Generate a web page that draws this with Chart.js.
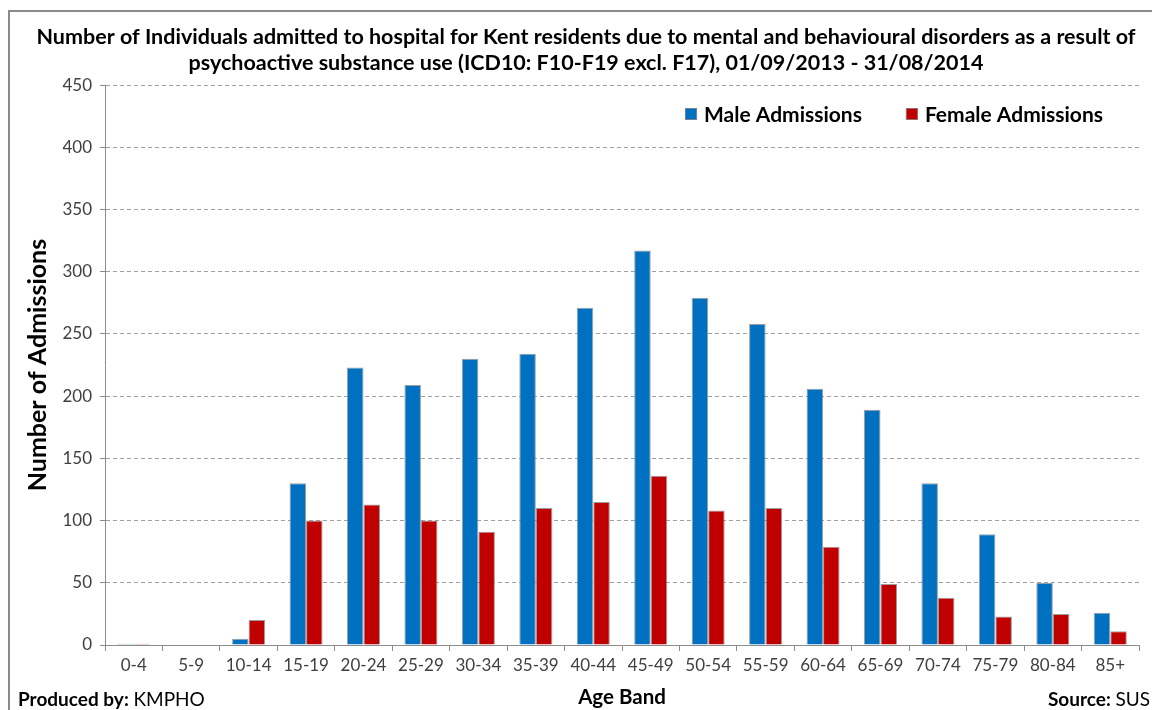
<!DOCTYPE html>
<html>
<head>
<meta charset="utf-8">
<script src="https://cdn.jsdelivr.net/npm/chart.js@4.4.1/dist/chart.umd.min.js"></script>
<style>
  html, body { margin: 0; padding: 0; background: #fff; overflow: hidden; }
  #wrap { position: relative; width: 1172px; height: 710px; }
</style>
</head>
<body>
<div id="wrap"><canvas id="grafica"></canvas></div>
<script>
const ageBands = ["0-4", "5-9", "10-14", "15-19", "20-24", "25-29", "30-34", "35-39", "40-44",
                  "45-49", "50-54", "55-59", "60-64", "65-69", "70-74", "75-79", "80-84", "85+"];
const maleAdmissions = [1, 0, 5, 130, 223, 209, 230, 234, 271, 317, 279, 258, 206, 189, 130, 89, 50, 26];
const femaleAdmissions = [1, 0, 20, 100, 113, 100, 91, 110, 115, 136, 108, 110, 79, 49, 38, 23, 25, 11];
const yTicks = { min: 0, max: 450, step: 50 };

const FONT = "Lato, 'Open Sans', sans-serif";

// Marco, leyenda y pies de pagina
const extras = {
    id: "extras",
    beforeDraw(chart) {
        const ctx = chart.ctx;
        ctx.save();
        ctx.strokeStyle = "#8a8a8a";
        ctx.lineWidth = 2;
        ctx.strokeRect(9, 11, 1158, 720);
        ctx.restore();
    },
    afterDraw(chart) {
        const ctx = chart.ctx;
        const area = chart.chartArea;
        ctx.save();

        // Leyenda
        ctx.font = "bold 21px " + FONT;
        ctx.textBaseline = "middle";
        const items = chart.data.datasets.map(ds => ({ label: ds.label, color: ds.backgroundColor }));
        const box = 12, gap = 7, space = 44;
        let total = 0;
        items.forEach((it, i) => {
            it.w = ctx.measureText(it.label).width;
            total += box + gap + it.w + (i ? space : 0);
        });
        let x = area.right - 36 - total;
        const y = 114;
        items.forEach(it => {
            ctx.fillStyle = it.color;
            ctx.fillRect(x, y - 6, box, box);
            ctx.strokeStyle = "rgba(140,140,140,0.8)";
            ctx.lineWidth = 1;
            ctx.strokeRect(x + 0.5, y - 5.5, box - 1, box - 1);
            ctx.fillStyle = "#000";
            ctx.textAlign = "left";
            ctx.fillText(it.label, x + box + gap, y + 1);
            x += box + gap + it.w + space;
        });

        // Pies
        ctx.textBaseline = "middle";
        const fy = 700;
        ctx.font = "bold 19px " + FONT;
        ctx.fillStyle = "#000";
        ctx.textAlign = "left";
        ctx.fillText("Produced by:", 18, fy);
        let w1 = ctx.measureText("Produced by: ").width;
        ctx.font = "19px " + FONT;
        ctx.fillText("KMPHO", 18 + w1, fy);

        ctx.textAlign = "right";
        ctx.font = "19px " + FONT;
        const sus = "SUS";
        const wSus = ctx.measureText(sus).width;
        ctx.fillText(sus, 1150, fy);
        ctx.font = "bold 19px " + FONT;
        ctx.fillText("Source: ", 1150 - wSus, fy);
        ctx.restore();
    }
};

const ctx = document.getElementById("grafica").getContext("2d");
new Chart(ctx, {
    type: "bar",
    data: {
        labels: ageBands,
        datasets: [{
            label: "Male Admissions",
            data: maleAdmissions,
            backgroundColor: "#0070C0",
            borderColor: "rgba(140,140,140,0.85)",
            borderWidth: 1
        }, {
            label: "Female Admissions",
            data: femaleAdmissions,
            backgroundColor: "#C00000",
            borderColor: "rgba(140,140,140,0.85)",
            borderWidth: 1
        }]
    },
    options: {
        responsive: true,
        maintainAspectRatio: false,
        animation: false,
        layout: { padding: { left: 33, right: 33, top: 0, bottom: 0 } },
        datasets: { bar: { categoryPercentage: 0.575, barPercentage: 1.0 } },
        plugins: {
            legend: { display: false },
            tooltip: { enabled: false },
            title: {
                display: true,
                text: ["Number of Individuals admitted to hospital for Kent residents due to mental and behavioural disorders as a result of",
                       "psychoactive substance use (ICD10: F10-F19 excl. F17), 01/09/2013 - 31/08/2014"],
                color: "#000",
                font: { family: FONT, size: 21.5, weight: "bold", lineHeight: 1.21 },
                padding: { top: 24, bottom: 9 }
            }
        },
        scales: {
            x: {
                afterFit: s => { s.height = 65; },
                grid: {
                    offset: true,
                    drawOnChartArea: false,
                    drawTicks: true,
                    tickLength: 6,
                    color: "#8c8c8c"
                },
                border: { display: true, color: "#8c8c8c", width: 1 },
                ticks: { color: "#404040", font: { family: FONT, size: 17 }, padding: 4, maxRotation: 0 },
                title: {
                    display: true,
                    text: "Age Band",
                    color: "#000",
                    font: { family: FONT, size: 20.5, weight: "bold" },
                    padding: { top: 4, bottom: 0 }
                }
            },
            y: {
                min: yTicks.min,
                max: yTicks.max,
                afterFit: s => { s.width = 72; },
                grid: {
                    color: "#a0a0a0",
                    drawTicks: true,
                    tickLength: 5,
                    tickColor: "#8c8c8c",
                    tickBorderDash: []
                },
                border: { display: true, color: "#8c8c8c", width: 1, dash: [4, 3] },
                ticks: { stepSize: yTicks.step, color: "#404040", font: { family: FONT, size: 17 }, padding: 8 },
                title: {
                    display: true,
                    text: "Number of Admissions",
                    color: "#000",
                    font: { family: FONT, size: 25, weight: "bold" },
                    padding: { top: -10, bottom: 0 }
                }
            }
        }
    },
    plugins: [extras]
});
</script>
</body>
</html>
